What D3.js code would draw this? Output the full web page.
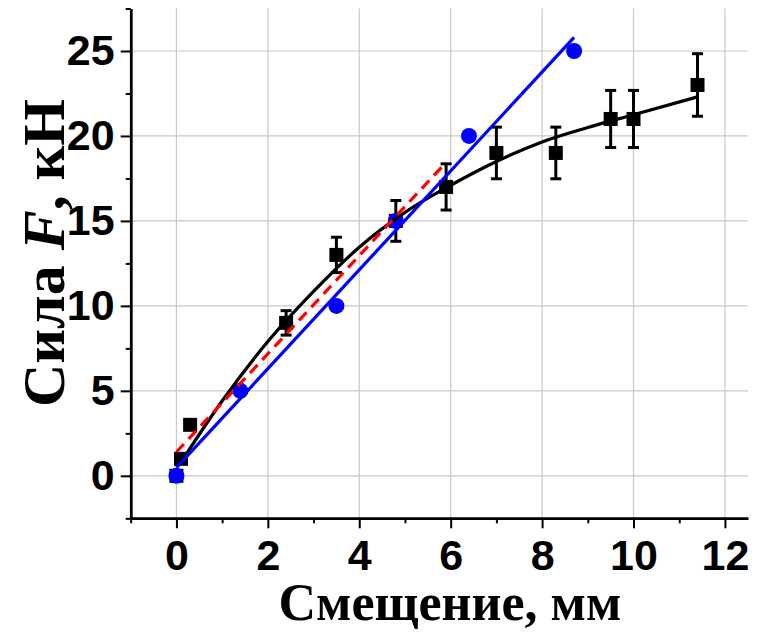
<!DOCTYPE html>
<html>
<head>
<meta charset="utf-8">
<script src="https://cdn.jsdelivr.net/npm/d3@7"></script>
<style>
  html, body { margin: 0; padding: 0; background: #fff; }
  svg { display: block; }
</style>
</head>
<body>
<svg id="chart" width="761" height="632"></svg>
<script>
// Experimental series: displacement (mm) vs force (kN)
const squareX   = [0, 0.1, 0.3, 2.4, 3.5, 4.8, 5.9, 7.0, 8.3, 9.5, 10.0, 11.4];
const squareY   = [0, 1, 3, 9, 13, 15, 17, 19, 19, 21, 21, 23];
const squareErr = [0, 0.08, 0.24, 0.72, 1.04, 1.2, 1.36, 1.52, 1.52, 1.68, 1.68, 1.84];

const circleX = [0, 1.4, 3.5, 4.8, 6.4, 8.7];
const circleY = [0, 5, 10, 15, 20, 25];

// Smooth approximation through the square series
const curveX = [0.1, 1.0, 2.0, 3.0, 4.0, 5.0, 6.0, 7.0, 8.0, 9.0, 10.0, 11.4];
const curveY = [0.8, 4.4, 7.9, 10.85, 13.45, 15.5, 17.1, 18.5, 19.65, 20.5, 21.25, 22.3];

// Linear approximations
const blueFitX = [0, 8.7];
const blueFitY = [0.48, 25.8];
const redFitX  = [0, 5.85];
const redFitY  = [1.4, 18.3];

// Axis ticks
const xMajor = [0, 2, 4, 6, 8, 10, 12];
const xMinor = [-1, 1, 3, 5, 7, 9, 11];
const yMajor = [0, 5, 10, 15, 20, 25];
const yMinor = [-2.5, 2.5, 7.5, 12.5, 17.5, 22.5, 27.5];

const xTitle = "Смещение, мм";

const svg = d3.select("#chart");

const x = d3.scaleLinear().domain([-1, 12.5]).range([130.7, 747.8]);
const y = d3.scaleLinear().domain([-2.5, 27.5]).range([518.3, 8.5]);

// Grid
const grid = svg.append("g").attr("stroke", "#c8c8c8").attr("stroke-width", 1.2);
grid.selectAll("line.v").data(xMajor).join("line")
  .attr("x1", d => x(d)).attr("x2", d => x(d))
  .attr("y1", y.range()[0]).attr("y2", y.range()[1]);
grid.selectAll("line.h").data(yMajor).join("line")
  .attr("y1", d => y(d)).attr("y2", d => y(d))
  .attr("x1", x.range()[0]).attr("x2", x.range()[1]);

// Axes
const tickFont = "'Liberation Sans', Arial, sans-serif";

const xAxis = svg.append("g").attr("transform", `translate(0,${y(-2.5)})`)
  .call(d3.axisBottom(x).tickValues(xMajor).tickSize(10).tickPadding(11).tickSizeOuter(0));
const xAxisMinor = svg.append("g").attr("transform", `translate(0,${y(-2.5)})`)
  .call(d3.axisBottom(x).tickValues(xMinor).tickSize(5).tickFormat("").tickSizeOuter(0));

const yAxis = svg.append("g").attr("transform", `translate(${x(-1)},0)`)
  .call(d3.axisLeft(y).tickValues(yMajor).tickSize(10).tickPadding(6).tickSizeOuter(0));
const yAxisMinor = svg.append("g").attr("transform", `translate(${x(-1)},0)`)
  .call(d3.axisLeft(y).tickValues(yMinor).tickSize(5).tickFormat("").tickSizeOuter(0));

[xAxis, xAxisMinor, yAxis, yAxisMinor].forEach(g => {
  g.select(".domain").attr("stroke", "#000").attr("stroke-width", 2.5);
  g.selectAll(".tick line").attr("stroke", "#000").attr("stroke-width", 2);
  g.selectAll(".tick text")
    .attr("fill", "#000")
    .style("font-family", tickFont)
    .style("font-weight", "bold")
    .style("font-size", "43px");
});

// Error bars for the square series
const errG = svg.append("g").attr("stroke", "#000").attr("stroke-width", 3);
squareX.forEach((xv, i) => {
  const e = squareErr[i];
  if (e <= 0) return;
  const cx = x(xv), top = y(squareY[i] + e), bot = y(squareY[i] - e);
  errG.append("line").attr("x1", cx).attr("x2", cx).attr("y1", top).attr("y2", bot);
  errG.append("line").attr("x1", cx - 5.5).attr("x2", cx + 5.5).attr("y1", top).attr("y2", top);
  errG.append("line").attr("x1", cx - 5.5).attr("x2", cx + 5.5).attr("y1", bot).attr("y2", bot);
});

// Square markers
const sq = 14;
svg.append("g").selectAll("rect").data(squareX.map((d, i) => [d, squareY[i]])).join("rect")
  .attr("x", d => x(d[0]) - sq / 2).attr("y", d => y(d[1]) - sq / 2)
  .attr("width", sq).attr("height", sq).attr("fill", "#000");

// Circle markers
svg.append("g").selectAll("circle").data(circleX.map((d, i) => [d, circleY[i]])).join("circle")
  .attr("cx", d => x(d[0])).attr("cy", d => y(d[1])).attr("r", 8).attr("fill", "#0000ff");

// Fit lines
const smooth = d3.line().x(d => x(d[0])).y(d => y(d[1])).curve(d3.curveMonotoneX);
svg.append("path")
  .datum(curveX.map((d, i) => [d, curveY[i]]))
  .attr("d", smooth)
  .attr("fill", "none").attr("stroke", "#000").attr("stroke-width", 3.2);

const straight = d3.line().x(d => x(d[0])).y(d => y(d[1]));
svg.append("path")
  .datum(blueFitX.map((d, i) => [d, blueFitY[i]]))
  .attr("d", straight)
  .attr("fill", "none").attr("stroke", "#0000ff").attr("stroke-width", 3.2);

svg.append("path")
  .datum(redFitX.map((d, i) => [d, redFitY[i]]))
  .attr("d", straight)
  .attr("fill", "none").attr("stroke", "#ff0000").attr("stroke-width", 3.2)
  .attr("stroke-dasharray", "11,7");

// Axis titles
const titleFont = "'Liberation Serif', 'Times New Roman', serif";
svg.append("text")
  .attr("x", 450).attr("y", 620)
  .attr("text-anchor", "middle")
  .style("font-family", titleFont).style("font-weight", "bold").style("font-size", "52px")
  .text(xTitle);

const yt = svg.append("text")
  .attr("transform", "translate(64,253) rotate(-90)")
  .attr("text-anchor", "middle")
  .style("font-family", titleFont).style("font-weight", "bold").style("font-size", "60px");
yt.append("tspan").text("Сила ");
yt.append("tspan").style("font-style", "italic").text("F");
yt.append("tspan").text(", кН");
</script>
</body>
</html>
